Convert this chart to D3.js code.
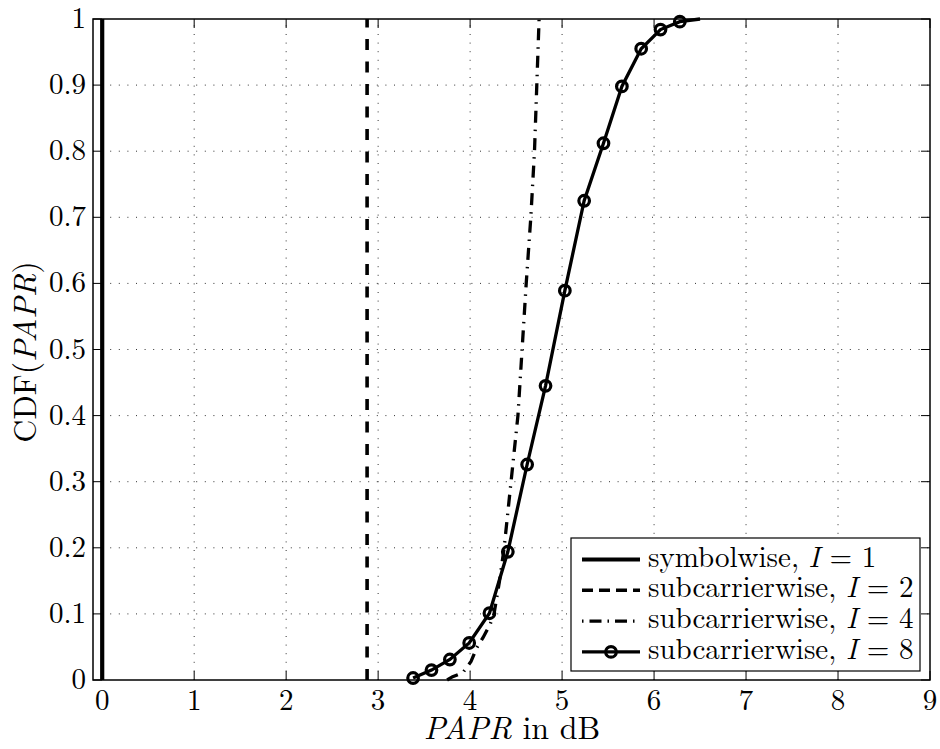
<!DOCTYPE html>
<html>
  <head>
    <meta charset="utf-8"/>
    <style>
body {
  margin: 0;
  background: #fff;
}
    </style>
  </head>
  <body>
    <svg id="chart" width="940" height="749"></svg>
    <script src="https://cdnjs.cloudflare.com/ajax/libs/d3/7.8.5/d3.min.js"></script>
    <script>
// values
const xTicks = [0, 1, 2, 3, 4, 5, 6, 7, 8, 9];
const yTicks = [0, 0.1, 0.2, 0.3, 0.4, 0.5, 0.6, 0.7, 0.8, 0.9, 1];
const yTickLabels = ["0", "0.1", "0.2", "0.3", "0.4", "0.5", "0.6", "0.7", "0.8", "0.9", "1"];

const symbolwiseI1 = [[0, 0], [0, 1]];
const subcarrierI2 = [[2.88, 0], [2.88, 1]];
const subcarrierI4 = [
  [3.75, 0], [3.81, 0.005], [3.92, 0.011], [4.01, 0.028], [4.07, 0.048], [4.14, 0.064],
  [4.22, 0.085], [4.26, 0.1], [4.32, 0.15], [4.37, 0.2], [4.445, 0.3], [4.52, 0.4],
  [4.565, 0.5], [4.61, 0.6], [4.66, 0.7], [4.70, 0.8], [4.725, 0.9], [4.75, 1]
];
const subcarrierI8 = [
  [3.38, 0.003], [3.58, 0.015], [3.78, 0.031], [3.99, 0.056], [4.21, 0.101],
  [4.41, 0.194], [4.62, 0.326], [4.82, 0.445], [5.03, 0.589], [5.24, 0.725],
  [5.45, 0.812], [5.65, 0.898], [5.86, 0.955], [6.07, 0.984], [6.28, 0.996]
];
const subcarrierI8End = [6.5, 1];

const legendLabels = [
  ["symbolwise, ", "1"],
  ["subcarrierwise, ", "2"],
  ["subcarrierwise, ", "4"],
  ["subcarrierwise, ", "8"]
];

const FONT = "Latin Modern Roman";
const svg = d3.select("#chart");
const pLeft = 93, pRight = 930, pTop = 19, pBottom = 680;

const x = d3.scaleLinear().domain([-0.1, 9]).range([pLeft, pRight]);
const y = d3.scaleLinear().domain([0, 1]).range([pBottom, pTop]);

// grid
const grid = svg.append("g")
    .attr("stroke", "#333")
    .attr("stroke-width", 1)
    .attr("stroke-dasharray", "1,7.6");
grid.selectAll("line.gx")
  .data(xTicks.filter(d => d > 0 && d < 9))
  .join("line")
    .attr("class", "gx")
    .attr("x1", d => x(d)).attr("x2", d => x(d))
    .attr("y1", pBottom).attr("y2", pTop);
grid.selectAll("line.gy")
  .data(yTicks.filter(d => d > 0 && d < 1))
  .join("line")
    .attr("class", "gy")
    .attr("y1", d => y(d)).attr("y2", d => y(d))
    .attr("x1", pLeft).attr("x2", pRight);

// ticks inside on all four sides
const ticks = svg.append("g").attr("stroke", "#000").attr("stroke-width", 1);
xTicks.forEach(d => {
  ticks.append("line").attr("x1", x(d)).attr("x2", x(d)).attr("y1", pBottom).attr("y2", pBottom - 9);
  ticks.append("line").attr("x1", x(d)).attr("x2", x(d)).attr("y1", pTop).attr("y2", pTop + 9);
});
yTicks.forEach(d => {
  ticks.append("line").attr("y1", y(d)).attr("y2", y(d)).attr("x1", pLeft).attr("x2", pLeft + 9);
  ticks.append("line").attr("y1", y(d)).attr("y2", y(d)).attr("x1", pRight).attr("x2", pRight - 9);
});

// tick labels
svg.append("g").selectAll("text")
  .data(xTicks)
  .join("text")
    .attr("font-family", FONT)
    .attr("x", d => x(d))
    .attr("y", 710)
    .attr("text-anchor", "middle")
    .attr("font-size", 29)
    .text(d => d);
svg.append("g").selectAll("text")
  .data(yTicks)
  .join("text")
    .attr("font-family", FONT)
    .attr("x", 86)
    .attr("y", d => y(d) + 9)
    .attr("text-anchor", "end")
    .attr("font-size", 29)
    .text((d, i) => yTickLabels[i]);

// axis titles
const xt = svg.append("text")
    .attr("font-family", FONT)
    .attr("x", 512)
    .attr("y", 739)
    .attr("text-anchor", "middle")
    .attr("font-size", 32);
xt.append("tspan").attr("font-style", "italic").text("PAPR");
xt.append("tspan").text(" in dB");

const yt = svg.append("text")
    .attr("font-family", FONT)
    .attr("transform", "translate(36,352) rotate(-90)")
    .attr("text-anchor", "middle")
    .attr("font-size", 32);
yt.append("tspan").text("CDF(");
yt.append("tspan").attr("font-style", "italic").text("PAPR");
yt.append("tspan").text(")");

// curves
const line = d3.line().x(d => x(d[0])).y(d => y(d[1]));
const curves = svg.append("g").attr("fill", "none").attr("stroke", "#000");

curves.append("path").datum(symbolwiseI1).attr("d", line).attr("stroke-width", 4.2);
curves.append("path").datum(subcarrierI2).attr("d", line)
    .attr("stroke-width", 3.6).attr("stroke-dasharray", "11,11.5");
curves.append("path").datum(subcarrierI4).attr("d", line)
    .attr("stroke-width", 3.3).attr("stroke-dasharray", "12,7,1.5,7");
curves.append("path").datum(subcarrierI8.concat([subcarrierI8End])).attr("d", line)
    .attr("stroke-width", 3.3);
curves.selectAll("circle")
  .data(subcarrierI8)
  .join("circle")
    .attr("cx", d => x(d[0]))
    .attr("cy", d => y(d[1]))
    .attr("r", 5.3)
    .attr("stroke-width", 3.2);

// frame
svg.append("rect")
    .attr("x", pLeft).attr("y", pTop)
    .attr("width", pRight - pLeft).attr("height", pBottom - pTop)
    .attr("fill", "none").attr("stroke", "#000").attr("stroke-width", 1.5);

// legend
const lg = svg.append("g");
lg.append("rect")
    .attr("x", 571).attr("y", 538).attr("width", 349).attr("height", 133)
    .attr("fill", "#fff").attr("stroke", "#000").attr("stroke-width", 1.2);
const styles = [
  { w: 4.2, dash: null, marker: false },
  { w: 3.6, dash: "11,6", marker: false },
  { w: 3.3, dash: "1.5,6,12,6", marker: false },
  { w: 3.3, dash: null, marker: true }
];
legendLabels.forEach((lab, i) => {
  const cy = 559.5 + i * 30.8;
  const s = styles[i];
  const l = lg.append("line")
      .attr("x1", 582).attr("x2", 640).attr("y1", cy).attr("y2", cy)
      .attr("stroke", "#000").attr("stroke-width", s.w);
  if (s.dash) l.attr("stroke-dasharray", s.dash);
  if (s.marker) {
    lg.append("circle").attr("cx", 611).attr("cy", cy).attr("r", 5.3)
        .attr("fill", "none").attr("stroke", "#000").attr("stroke-width", 3.2);
  }
  const t = lg.append("text").attr("font-family", FONT)
      .attr("x", 648).attr("y", cy + 7).attr("font-size", 29);
  t.append("tspan").text(lab[0]);
  t.append("tspan").attr("font-style", "italic").text("I");
  t.append("tspan").text(" = " + lab[1]);
});
    </script>
  </body>
</html>
